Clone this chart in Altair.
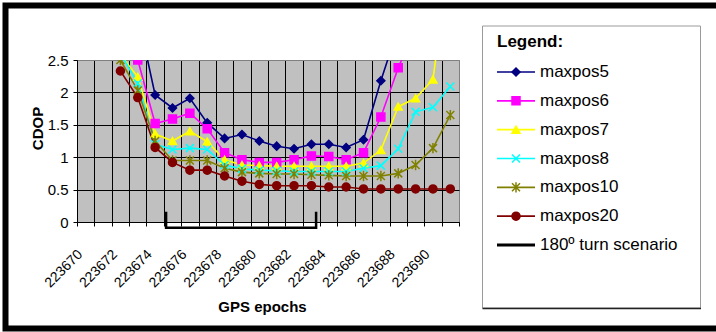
import altair as alt
import pandas as pd

# GPS epochs with CDOP values (one value per epoch, None where the series is off the chart)
epochs = list(range(223672, 223692))
maxpos5 = [None, 3.2, 1.96, 1.76, 1.91, 1.53, 1.29, 1.35, 1.25, 1.17, 1.13, 1.20, 1.20, 1.15, 1.27, 2.18, 3.0, None, None, None]
maxpos6 = [2.9, 2.50, 1.52, 1.59, 1.68, 1.44, 1.07, 0.96, 0.92, 0.92, 0.96, 1.02, 1.01, 0.96, 1.07, 1.62, 2.38, 3.0, None, None]
maxpos7 = [2.58, 2.24, 1.36, 1.25, 1.40, 1.24, 0.96, 0.88, 0.87, 0.86, 0.86, 0.86, 0.86, 0.86, 0.91, 1.11, 1.78, 1.91, 2.20, 4.2]
maxpos8 = [2.6, 2.14, 1.20, 1.12, 1.14, 1.12, 0.88, 0.82, 0.80, 0.79, 0.78, 0.78, 0.78, 0.78, 0.83, 0.87, 1.13, 1.70, 1.77, 2.09]
maxpos10 = [2.5, 2.03, 1.25, 0.95, 0.95, 0.95, 0.83, 0.77, 0.75, 0.74, 0.74, 0.73, 0.72, 0.71, 0.71, 0.71, 0.75, 0.88, 1.14, 1.65]
maxpos20 = [2.33, 1.92, 1.15, 0.92, 0.80, 0.80, 0.71, 0.63, 0.58, 0.56, 0.56, 0.56, 0.54, 0.54, 0.51, 0.51, 0.51, 0.51, 0.51, 0.51]

series_names = ["maxpos5", "maxpos6", "maxpos7", "maxpos8", "maxpos10", "maxpos20"]
series_values = [maxpos5, maxpos6, maxpos7, maxpos8, maxpos10, maxpos20]
series_colors = ["#000080", "#FF00FF", "#FFFF00", "#00FFFF", "#808000", "#800000"]
series_shapes = [
    "diamond",
    "square",
    "triangle-up",
    "M-1,-1L1,1M-1,1L1,-1",
    "M-1,-1L1,1M-1,1L1,-1M0,-1.3L0,1.3",
    "circle",
]

# bracket marking the 180º turn
turn_label = "180º turn scenario"
turn_epoch = [223674.63, 223674.63, 223683.27, 223683.27]
turn_cdop = [0.16, -0.09, -0.09, 0.16]

x_ticks = [223669.5 + i for i in range(23)]
y_ticks = [0, 0.5, 1, 1.5, 2, 2.5]

FONT = "Liberation Sans"

rows = []
for name, vals in zip(series_names, series_values):
    for e, v in zip(epochs, vals):
        if v is not None:
            rows.append({"epoch": e, "cdop": v, "series": name})
df = pd.DataFrame(rows)

turn_df = pd.DataFrame({"epoch": turn_epoch, "cdop": turn_cdop, "i": range(len(turn_epoch))})

legend_names = series_names + [turn_label]
legend_df = pd.DataFrame({"name": legend_names})
legend_series_df = pd.DataFrame({"name": series_names})

color_scale = alt.Scale(domain=legend_names, range=series_colors + ["black"])
shape_scale = alt.Scale(domain=series_names, range=series_shapes)

# ticks and grid sit on category boundaries; labels name the epoch centred between them
x_enc = alt.X(
    "epoch:Q",
    scale=alt.Scale(domain=[223669.5, 223691.5], nice=False, zero=False),
    axis=alt.Axis(
        values=x_ticks,
        labelExpr="(datum.value + 0.5) % 2 == 0 && datum.value < 223691 ? format(datum.value + 0.5, 'd') : ''",
        labelAngle=315,
        labelAlign="right",
        labelBaseline="middle",
        labelOffset=3,
        labelPadding=26,
        labelOverlap=False,
        labelFlush=False,
        labelBound=False,
        labelFont=FONT,
        labelFontSize=14,
        labelColor="black",
        tickSize=4,
        tickColor="black",
        domainColor="black",
        grid=True,
        gridColor=alt.condition("datum.value == 223691.5", alt.value("#808080"), alt.value("black")),
        gridWidth=1,
        title="GPS epochs",
        titleFont=FONT,
        titleFontSize=15,
        titleFontWeight="bold",
        titleColor="black",
        titleX=185,
        titleY=84,
        titleAlign="center",
        titleBaseline="middle",
    ),
)

y_enc = alt.Y(
    "cdop:Q",
    scale=alt.Scale(domain=[0, 2.5], nice=False, zero=True),
    axis=alt.Axis(
        values=y_ticks,
        labelExpr="datum.value + ''",
        labelFont=FONT,
        labelFontSize=15,
        labelColor="black",
        labelPadding=5,
        tickSize=4,
        tickColor="black",
        domainColor="black",
        grid=True,
        gridColor=alt.condition("datum.value == 2.5", alt.value("#808080"), alt.value("black")),
        gridWidth=1,
        title="CDOP",
        titleFont=FONT,
        titleFontSize=15,
        titleFontWeight="bold",
        titleColor="black",
        titleAngle=270,
        titleX=-40,
        titleY=68,
        titleAlign="center",
        titleBaseline="middle",
    ),
)

color_enc = alt.Color("series:N", scale=color_scale, legend=None)
stroke_enc = alt.Stroke("series:N", scale=color_scale, legend=None)
shape_enc = alt.Shape("series:N", scale=shape_scale, legend=None)

lines = alt.Chart(df).mark_line(strokeWidth=1.6, clip=True).encode(
    x=x_enc, y=y_enc, color=color_enc
)
points = alt.Chart(df).mark_point(filled=True, size=64, strokeWidth=1.5, opacity=1, clip=True).encode(
    x=x_enc, y=y_enc, color=color_enc, stroke=stroke_enc, shape=shape_enc
)
bracket = alt.Chart(turn_df).mark_line(strokeWidth=2.5, color="black").encode(
    x=x_enc, y=y_enc, order="i:Q"
)
plot = alt.layer(lines, points, bracket)

# legend entries, placed to the right of the plot area
leg_y = alt.Y(
    "name:N",
    scale=alt.Scale(type="point", domain=legend_names, range=[12, 185], padding=0),
    axis=None,
)
leg_color = alt.Color("name:N", scale=color_scale, legend=None)
leg_rules = alt.Chart(legend_df).mark_rule().encode(
    x=alt.value(420),
    x2=alt.value(458),
    y=leg_y,
    color=leg_color,
    strokeWidth=alt.condition(alt.datum.name == turn_label, alt.value(3), alt.value(1.6)),
)
leg_points = alt.Chart(legend_series_df).mark_point(filled=True, size=64, strokeWidth=1.5, opacity=1).encode(
    x=alt.value(439),
    y=leg_y,
    color=leg_color,
    stroke=alt.Stroke("name:N", scale=color_scale, legend=None),
    shape=alt.Shape("name:N", scale=shape_scale, legend=None),
)
leg_text = alt.Chart(legend_df).mark_text(
    align="left", baseline="middle", font=FONT, fontSize=17, color="black"
).encode(x=alt.value(463), y=leg_y, text="name:N")
legend = alt.layer(leg_rules, leg_points, leg_text)

legend_title = alt.Chart(pd.DataFrame({"t": ["Legend:"]})).mark_text(
    align="left", baseline="middle", font=FONT, fontSize=17, fontWeight="bold", color="black"
).encode(x=alt.value(420), y=alt.value(-18), text="t:N")

one = pd.DataFrame({"k": [0]})
legend_box = alt.Chart(one).mark_rect(fillOpacity=0, stroke="#9a9a9a", strokeWidth=1).encode(
    x=alt.value(405.5), x2=alt.value(623.5), y=alt.value(-34), y2=alt.value(248)
)
legend_box_bottom = alt.Chart(one).mark_rule(color="#222222", strokeWidth=1.5).encode(
    x=alt.value(405.5), x2=alt.value(624), y=alt.value(248.5)
)
frame = alt.Chart(one).mark_rect(fillOpacity=0, stroke="black", strokeWidth=6).encode(
    x=alt.value(-71.5), x2=alt.value(660), y=alt.value(-54.5), y2=alt.value(268.5)
)

chart = (
    alt.layer(legend_box, legend_box_bottom, plot, legend, legend_title, frame)
    .resolve_scale(y="independent")
    .properties(
        width=382,
        height=162,
        padding={"left": 77, "top": 60, "right": 257, "bottom": 110},
        autosize=alt.AutoSizeParams(type="none"),
        background="white",
    )
    .configure_view(fill="#C0C0C0", stroke="#808080", strokeWidth=1)
)

chart.save("out.html", embed_options={"renderer": "svg", "actions": False})
